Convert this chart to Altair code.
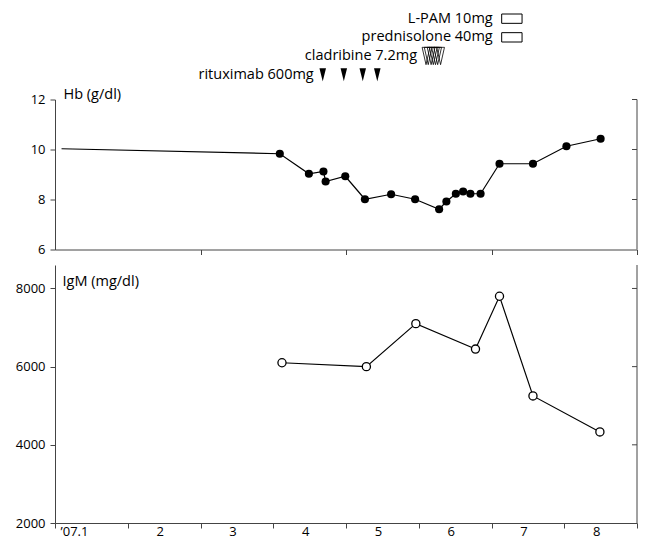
import json
import altair as alt
import pandas as pd

FONT = "Open Sans"
AX = "#444444"

# ---- data (x = months since 1 Jan 2007) ----
hb_month = [0.09, 3.09, 3.49, 3.69, 3.72, 3.99, 4.26, 4.62, 4.95, 5.28, 5.38,
            5.51, 5.61, 5.71, 5.85, 6.11, 6.57, 7.03, 7.50]
hb_value = [10.03, 9.83, 9.03, 9.12, 8.72, 8.93, 8.01, 8.21, 8.01, 7.61, 7.92,
            8.23, 8.32, 8.23, 8.23, 9.43, 9.43, 10.13, 10.43]
hb_marker = [False] + [True] * 18

igm_month = [3.12, 4.28, 4.96, 5.78, 6.11, 6.57, 7.49]
igm_value = [6100, 6000, 7100, 6450, 7800, 5250, 4330]

month_ticks = [0, 1, 2, 3, 4, 5, 6, 7, 8]
month_labels = ["\u201907.1", "2", "3", "4", "5", "6", "7", "8", ""]
hb_ticks = [6, 8, 10, 12]
hb_right_ticks = [8, 10, 12]
igm_ticks = [2000, 4000, 6000, 8000]
igm_right_ticks = [4000, 6000, 8000]

drug_names = ["rituximab 600mg", "cladribine 7.2mg", "prednisolone 40mg", "L-PAM 10mg"]
drug_lane = [1, 2, 3, 4]
rituximab_doses = [3.68, 3.97, 4.23, 4.43]
cladribine_doses = [5.10, 5.13, 5.17, 5.20, 5.23, 5.26, 5.30]
pred_period = [6.14, 6.42]
lpam_period = [6.14, 6.42]

W = 582
H_TREAT, H_HB, H_IGM = 70, 150, 258
TRI_FILLED = "M-0.5,-1L0.5,-1L0,1Z"
TRI_OPEN = "M-0.45,-1L0.45,-1L0,1Z"

x_scale = alt.Scale(domain=[0, 8], nice=False, zero=False)
lane_scale = alt.Scale(domain=[0.5, 4.25], nice=False, zero=False)
hb_scale = alt.Scale(domain=[6, 12], nice=False, zero=False)
igm_scale = alt.Scale(domain=[2000, 8600], nice=False, zero=False)

# ---- treatment panel ----
drug_df = pd.DataFrame({
    "name": drug_names,
    "lane": drug_lane,
    "start": [rituximab_doses[0], cladribine_doses[0], pred_period[0], lpam_period[0]],
})
xa = alt.X("start:Q", scale=x_scale, axis=None)
ya = alt.Y("lane:Q", scale=lane_scale, axis=None)
labels = alt.Chart(drug_df).mark_text(
    align="right", baseline="middle", dx=-9, font=FONT, fontSize=14.5, color="black"
).encode(x=xa, y=ya, text="name:N")

ritux = alt.Chart(pd.DataFrame({"start": rituximab_doses, "lane": 1})).mark_point(
    shape=TRI_FILLED, filled=True, size=169, color="black", opacity=1
).encode(x=xa, y=ya)

clad = alt.Chart(pd.DataFrame({"start": cladribine_doses, "lane": 2})).mark_point(
    shape=TRI_OPEN, filled=False, size=300, color="black", strokeWidth=0.8, opacity=1
).encode(x=xa, y=ya)

rect_df = pd.DataFrame({
    "start": [pred_period[0], lpam_period[0]],
    "end": [pred_period[1], lpam_period[1]],
    "lane": [3, 4],
})
rects = alt.Chart(rect_df).transform_calculate(
    lo="datum.lane - 0.25", hi="datum.lane + 0.25"
).mark_rect(fill="white", stroke="black", strokeWidth=1).encode(
    x=xa, x2="end:Q",
    y=alt.Y("lo:Q", scale=lane_scale, axis=None), y2="hi:Q",
)

treat = alt.layer(rects, ritux, clad, labels).properties(width=W, height=H_TREAT)


def right_axis(ticks, scale, yaxis, h):
    frame = alt.Chart(pd.DataFrame({"v": [0]})).mark_rule(color=AX, strokeWidth=1).encode(
        x=alt.value(W), y=alt.value(0), y2=alt.value(h))
    tks = alt.Chart(pd.DataFrame({"value": ticks})).mark_rule(color=AX, strokeWidth=1).encode(
        x=alt.value(W - 5), x2=alt.value(W),
        y=alt.Y("value:Q", scale=scale, axis=yaxis))
    return [frame, tks]


# ---- Hb panel ----
hb_df = pd.DataFrame({"month": hb_month, "value": hb_value, "marker": hb_marker})
hb_xaxis = alt.Axis(values=month_ticks[2::2], labels=False, title=None, tickSize=5)
hb_yaxis = alt.Axis(values=hb_ticks, title="Hb (g/dl)", titleAngle=0, titleAlign="left",
                    titleBaseline="middle", titleX=8, titleY=-5, tickSize=5, labelPadding=5)
hb_x = alt.X("month:Q", scale=x_scale, axis=hb_xaxis)
hb_y = alt.Y("value:Q", scale=hb_scale, axis=hb_yaxis)
hb_line = alt.Chart(hb_df).mark_line(color="black", strokeWidth=1.2).encode(x=hb_x, y=hb_y)
hb_pts = alt.Chart(hb_df).transform_filter("datum.marker").mark_circle(
    size=66, color="black", opacity=1).encode(x=hb_x, y=hb_y)
hb_panel = alt.layer(hb_line, hb_pts,
                     *right_axis(hb_right_ticks, hb_scale, hb_yaxis, H_HB)).properties(
    width=W, height=H_HB)

# ---- IgM panel ----
igm_df = pd.DataFrame({"month": igm_month, "value": igm_value})
igm_xaxis = alt.Axis(
    values=month_ticks, title=None, tickSize=5, labelPadding=-3,
    labelExpr=json.dumps(month_labels) + "[datum.value]",
    labelOffset=32, labelFlush=True, labelFlushOffset=27,
)
igm_yaxis = alt.Axis(values=igm_ticks, format="d", title="IgM (mg/dl)", titleAngle=0,
                     titleAlign="left", titleBaseline="middle", titleX=7, titleY=16,
                     tickSize=5, labelPadding=5)
igm_x = alt.X("month:Q", scale=x_scale, axis=igm_xaxis)
igm_y = alt.Y("value:Q", scale=igm_scale, axis=igm_yaxis)
igm_line = alt.Chart(igm_df).mark_line(color="black", strokeWidth=1.2).encode(x=igm_x, y=igm_y)
igm_pts = alt.Chart(igm_df).mark_point(
    shape="circle", filled=True, fill="white", stroke="black", strokeWidth=1.3,
    size=66, opacity=1).encode(x=igm_x, y=igm_y)
igm_panel = alt.layer(igm_line, igm_pts,
                      *right_axis(igm_right_ticks, igm_scale, igm_yaxis, H_IGM)).properties(
    width=W, height=H_IGM)

chart = alt.vconcat(treat, hb_panel, igm_panel, spacing=15.5, bounds="flush").properties(
    padding={"left": 7, "top": 2, "right": 0, "bottom": 2}
).configure_view(stroke=None).configure_axis(
    grid=False, domainColor=AX, tickColor=AX, domainWidth=1, tickWidth=1,
    labelColor="black", labelFont=FONT, labelFontSize=13,
    titleFont=FONT, titleFontSize=14.5, titleFontWeight="normal", titleColor="black",
)

chart.save("out.html", embed_options={"renderer": "svg", "actions": False})
